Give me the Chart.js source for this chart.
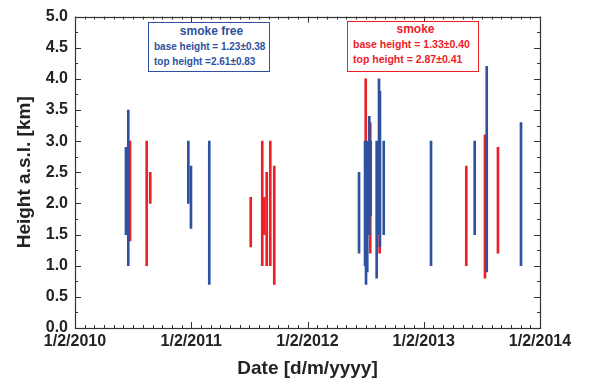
<!DOCTYPE html>
<html>
<head>
<meta charset="utf-8">
<script src="https://cdn.jsdelivr.net/npm/chart.js@4.4.1/dist/chart.umd.min.js"></script>
<style>
  html, body { margin: 0; padding: 0; background: #fff; }
  #wrap { position: relative; width: 603px; height: 385px; }
  canvas { position: absolute; left: 0; top: 0; }
  .box { position: absolute; background: #fff; font-family: "Liberation Sans", Arial, sans-serif; font-weight: bold; box-sizing: border-box; }
  .box .t { text-align: center; font-size: 12px; line-height: 15px; }
  .box .l { font-size: 10px; line-height: 15px; white-space: nowrap; }
  #bfree { left: 148px; top: 22px; width: 122px; height: 50px; border: 1.5px solid #2e529f; color: #2e529f; padding: 1px 0 0 5px; }
  #bsmoke { left: 347px; top: 21px; width: 132px; height: 51px; border: 1.5px solid #ec2028; color: #ec2028; padding: 0 0 0 5px; }
  #bsmoke .l { font-size: 10.5px; }
</style>
</head>
<body>
<div id="wrap">
  <canvas id="c" width="603" height="385"></canvas>
  <div class="box" id="bfree"><div class="t">smoke free</div><div class="l">base height = 1.23±0.38</div><div class="l">top height =2.61±0.83</div></div>
  <div class="box" id="bsmoke"><div class="t">smoke</div><div class="l">base height = 1.33±0.40</div><div class="l">top height = 2.87±0.41</div></div>
</div>
<script>
// x values: months elapsed since 1/2/2010
const xTickLabels = ["1/2/2010", "1/2/2011", "1/2/2012", "1/2/2013", "1/2/2014"];

const smokeFreeMonths = [5.26, 5.50, 11.70, 11.97, 13.86, 29.32, 29.94, 30.04, 30.17, 30.38, 30.52, 31.14, 31.38, 31.48, 31.87, 36.75, 41.26, 42.50, 46.04];
const smokeFreeBase   = [1.50, 1.00, 2.00, 1.60, 0.70, 1.20, 1.00, 0.70, 0.90, 1.50, 1.80, 0.80, 1.50, 1.30, 1.50, 1.00, 1.50, 0.90, 1.00];
const smokeFreeTop    = [2.90, 3.50, 3.00, 2.60, 3.00, 2.50, 3.00, 2.70, 3.00, 3.40, 3.00, 3.00, 4.00, 3.80, 3.00, 3.00, 3.00, 4.20, 3.30];

const smokeMonths = [5.68, 7.40, 7.77, 18.14, 19.33, 19.54, 19.79, 20.16, 20.57, 30.01, 30.48, 31.45, 40.39, 42.32, 43.66];
const smokeBase   = [1.40, 1.00, 2.00, 1.30, 1.00, 1.50, 1.00, 1.00, 0.70, 1.50, 1.20, 1.20, 1.00, 0.80, 1.20];
const smokeTop    = [3.00, 3.00, 2.50, 2.10, 3.00, 2.10, 2.50, 3.00, 2.60, 4.00, 3.30, 3.00, 2.60, 3.10, 2.90];

const BLUE = '#2e529f';
const RED = '#ec2028';

function pts(xs, lo, hi) { return xs.map((x, i) => ({ x: x, y: [lo[i], hi[i]] })); }

const framePlugin = {
  id: 'frame',
  afterDatasetsDraw(chart) {
    const { ctx, chartArea: a, scales } = chart;
    ctx.save();
    ctx.strokeStyle = '#333';
    ctx.lineWidth = 1;
    ctx.beginPath();
    for (let m = 0; m <= 48; m++) {
      const px = Math.round(scales.x.getPixelForValue(m)) + 0.5;
      const len = (m % 12 === 0) ? 6 : 3;
      ctx.moveTo(px, a.bottom); ctx.lineTo(px, a.bottom - len);
      ctx.moveTo(px, a.top); ctx.lineTo(px, a.top + len);
    }
    for (let k = 0; k <= 20; k++) {
      const v = k * 0.25;
      const py = Math.round(scales.y.getPixelForValue(v)) + 0.5;
      const len = (k % 2 === 0) ? 6 : 3;
      ctx.moveTo(a.left, py); ctx.lineTo(a.left + len, py);
      ctx.moveTo(a.right, py); ctx.lineTo(a.right - len, py);
    }
    ctx.stroke();
    ctx.lineWidth = 1.2;
    ctx.strokeRect(Math.round(a.left) + 0.5, Math.round(a.top) + 0.5, Math.round(a.right - a.left), Math.round(a.bottom - a.top));
    ctx.restore();
  }
};

new Chart(document.getElementById('c'), {
  type: 'bar',
  data: {
    datasets: [
      { label: 'smoke free', data: pts(smokeFreeMonths, smokeFreeBase, smokeFreeTop), backgroundColor: BLUE, barThickness: 2, grouped: false },
      { label: 'smoke', data: pts(smokeMonths, smokeBase, smokeTop), backgroundColor: RED, barThickness: 2, grouped: false }
    ]
  },
  options: {
    responsive: false,
    animation: false,
    layout: { padding: { top: 12, right: 63, left: 0, bottom: 0 } },
    plugins: { legend: { display: false }, tooltip: { enabled: false } },
    scales: {
      x: {
        type: 'linear',
        min: 0, max: 48,
        offset: false,
        grid: { display: false, drawTicks: false },
        border: { display: false },
        ticks: {
          stepSize: 12,
          autoSkip: false,
          maxRotation: 0,
          padding: 4,
          color: '#222',
          font: { family: '"Liberation Sans", Arial, sans-serif', weight: 'bold', size: 16 },
          callback: (v) => xTickLabels[Math.round(v / 12)]
        },
        title: {
          display: true,
          text: 'Date [d/m/yyyy]',
          color: '#222',
          padding: { top: 0, bottom: 5 },
          font: { family: '"Liberation Sans", Arial, sans-serif', weight: 'bold', size: 19 }
        },
        afterFit: (s) => { s.height = 57; }
      },
      y: {
        min: 0, max: 5,
        grid: { display: false, drawTicks: false },
        border: { display: false },
        ticks: {
          stepSize: 0.5,
          padding: 7,
          color: '#222',
          font: { family: '"Liberation Sans", Arial, sans-serif', weight: 'bold', size: 16 },
          callback: (v) => Number(v).toFixed(1)
        },
        title: {
          display: true,
          text: 'Height a.s.l. [km]',
          color: '#222',
          padding: { top: 13, bottom: 0 },
          font: { family: '"Liberation Sans", Arial, sans-serif', weight: 'bold', size: 19 }
        },
        afterFit: (s) => { s.width = 75; }
      }
    }
  },
  plugins: [framePlugin]
});
</script>
</body>
</html>
